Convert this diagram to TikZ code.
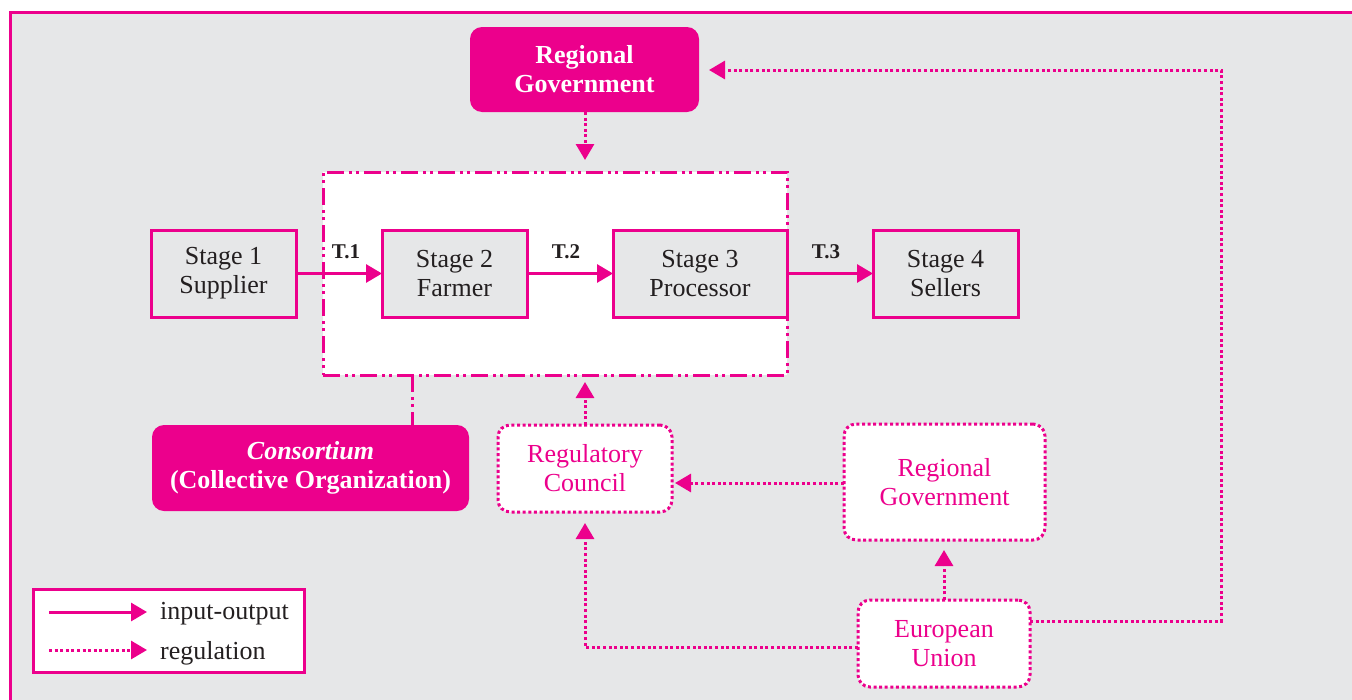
\documentclass[tikz,border=0pt]{standalone}
\usepackage{fontspec}
\setmainfont{Liberation Serif}
\usetikzlibrary{arrows.meta}
\definecolor{pk}{HTML}{EC008C}
\definecolor{bg}{HTML}{E6E7E8}
\definecolor{tx}{HTML}{231F20}
\tikzset{
  tip/.style={-{Triangle[length=16pt,width=18pt]}},
  io/.style={draw=pk, line width=3pt, tip},
  reg/.style={draw=pk, line width=3pt, dash pattern=on 3pt off 2.6pt, tip},
  ddot/.style={draw=pk, line width=3pt, dash pattern=on 17pt off 5pt on 3pt off 4pt on 3pt off 5pt},
  stagebox/.style={draw=pk, fill=bg, line width=3pt, text=tx, align=center, inner sep=0pt, outer sep=0pt,
     font=\fontsize{26}{29}\selectfont},
  filledbox/.style={fill=pk, rounded corners=12pt, text=white, align=center, inner sep=0pt, outer sep=0pt,
     font=\fontsize{26}{29}\selectfont\bfseries},
  dotbox/.style={draw=pk, fill=white, line width=3pt, dash pattern=on 3pt off 2.6pt, rounded corners=12pt,
     text=pk, align=center, inner sep=0pt, outer sep=0pt, font=\fontsize{26}{29}\selectfont},
  tlabel/.style={text=tx, font=\fontsize{21}{23}\selectfont\bfseries, inner sep=0pt},
  legtext/.style={text=tx, font=\fontsize{26}{29}\selectfont, anchor=west, inner sep=0pt}
}
\begin{document}
\begin{tikzpicture}[x=1pt,y=-1pt]
\useasboundingbox (0,0) rectangle (1352,699);
\clip (0,0) rectangle (1352,699);
% background and outer frame
\fill[white] (0,0) rectangle (1352,699);
\draw[pk, fill=bg, line width=3pt] (10,12) rectangle (1420,760);

% dash-dot-dot consortium area
\node[ddot, fill=white, minimum width=464pt, minimum height=203pt, inner sep=0pt, outer sep=0pt] (dbox) at (555,273.5) {};

% top regional government
\node[filledbox, minimum width=229pt, minimum height=85pt] (rg1) at (584.5,69.5) {Regional\\Government};

% stages
\node[stagebox, minimum width=145pt, minimum height=87pt] (s1) at (223.5,273.5) {Stage 1\\Supplier};
\node[stagebox, minimum width=145pt, minimum height=87pt] (s2) at (454.5,273.5) {Stage 2\\Farmer};
\node[stagebox, minimum width=174pt, minimum height=87pt] (s3) at (700,273.5) {Stage 3\\Processor};
\node[stagebox, minimum width=145pt, minimum height=87pt] (s4) at (945.5,273.5) {Stage 4\\Sellers};

\node[tlabel] (t1) at (346,252) {T.1};
\node[tlabel] (t2) at (566,252) {T.2};
\node[tlabel] (t3) at (826,252) {T.3};

% consortium
\node[filledbox, minimum width=317pt, minimum height=86pt] (cons) at (310.5,468) {\textit{Consortium}\\(Collective Organization)};

% regulation boxes
\node[dotbox, minimum width=174pt, minimum height=87pt] (rc) at (585,468.5) {Regulatory\\Council};
\node[dotbox, minimum width=201pt, minimum height=116pt] (rg2) at (944.5,482) {Regional\\Government};
\node[dotbox, minimum width=172pt, minimum height=87pt] (eu) at (944,643.5) {European\\Union};

% legend
\node[draw=pk, fill=white, line width=3pt, minimum width=271pt, minimum height=83pt, inner sep=0pt] (leg) at (168.5,630.5) {};
\coordinate (la1) at (49,612);
\coordinate (lb1) at (147,612);
\coordinate (la2) at (49,650);
\coordinate (lb2) at (147,650);
\node[legtext] (lt1) at (160,614) {input-output};
\node[legtext] (lt2) at (160,653) {regulation};
\draw[io] (la1) -- (lb1);
\draw[reg] (la2) -- (lb2);

% input-output arrows
\draw[io] (s1.east) -- (s2.west);
\draw[io] (s2.east) -- (s3.west);
\draw[io] (s3.east) -- (s4.west);

% consortium link
\coordinate (cx) at (412,0);
\draw[ddot] (dbox.south -| cx) -- (cons.north -| cx);

% regulation arrows
\coordinate (ax) at (585,0);
\draw[reg, shorten >=12pt] (rg1.south -| ax) -- (dbox.north -| ax);
\draw[reg, shorten >=7pt] (rc.north -| ax) -- (dbox.south -| ax);
\coordinate (y483) at (0,483);
\draw[reg, shorten >=3pt] (rg2.west |- y483) -- (rc.east |- y483);
\draw[reg, shorten >=10pt] (eu.north) -- (rg2.south -| eu.north);
\coordinate (y647) at (0,647);
\draw[reg, shorten >=11pt] (eu.west |- y647) -- (rc.south |- y647) -- (rc.south);
\coordinate (ec) at (1221,621);
\coordinate (tc) at (1221,70);
\draw[reg, shorten >=10pt] (eu.east |- ec) -- (ec) -- (tc) -- (rg1.east |- tc);
\end{tikzpicture}
\end{document}
